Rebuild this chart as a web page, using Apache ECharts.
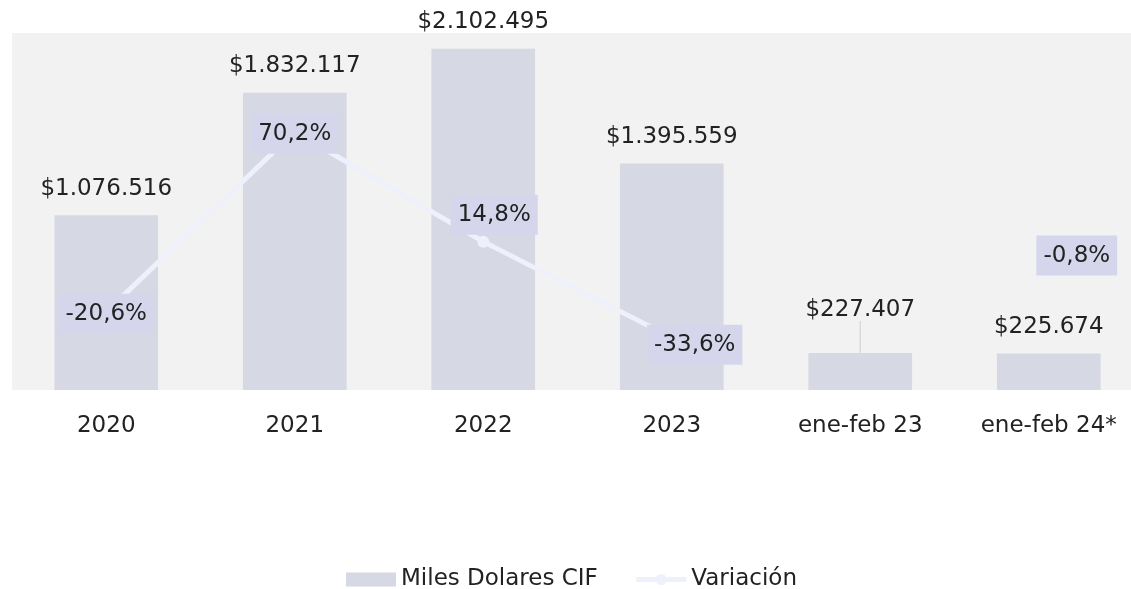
<!DOCTYPE html>
<html>
<head>
<meta charset="utf-8">
<script src="https://cdn.jsdelivr.net/npm/echarts@6/dist/echarts.min.js"></script>
<style>
  html, body { margin: 0; padding: 0; background: #fff; overflow: hidden; }
  #main { width: 1143px; height: 589px; }
</style>
</head>
<body>
<div id="main"></div>
<script>
// datos
var categorias = ['2020', '2021', '2022', '2023', 'ene-feb 23', 'ene-feb 24*'];
var milesDolares = [1076516, 1832117, 2102495, 1395559, 227407, 225674];
var variacion = [-20.6, 70.2, 14.8, -33.6, '-', -0.8];

var FONT = 'DejaVu Sans';
var FS = 23;
var TXT = '#222';

function fmtMiles(v) {
  return '$' + String(v).replace(/\B(?=(\d{3})+(?!\d))/g, '.');
}
function fmtPct(v) {
  return String(v.toFixed(1)).replace('.', ',') + '%';
}

// posicion de cada etiqueta de variacion
var posLabel = [
  { position: 'inside', offset: [0, 2] },
  { position: 'inside', offset: [0, 2] },
  { position: 'inside', offset: [11, -27] },
  { position: 'inside', offset: [23, 7] },
  null,
  { position: 'inside', offset: [28, -17] }
];

var lineData = variacion.map(function (v, i) {
  if (v === '-') return '-';
  return { value: v, label: posLabel[i] };
});

// solo la barra ene-feb 23 lleva la etiqueta desplazada con linea
var barData = milesDolares.map(function (v, i) {
  if (i === 4) return { value: v, labelLine: { show: true } };
  return v;
});

var chart = echarts.init(document.getElementById('main'), null, { renderer: 'canvas' });

var option = {
  animation: false,
  textStyle: { fontFamily: FONT },
  grid: {
    left: 12,
    right: 0,
    top: 33,
    bottom: 199,
    show: true,
    backgroundColor: '#f2f2f2',
    borderWidth: 0
  },
  legend: {
    top: 563,
    left: 'center',
    itemWidth: 50,
    itemHeight: 14,
    itemGap: 36,
    lineStyle: { width: 5 },
    textStyle: { fontSize: FS, color: TXT, fontFamily: FONT },
    data: [{ name: 'Miles Dolares CIF', icon: 'rect' }, 'Variación']
  },
  xAxis: {
    type: 'category',
    data: categorias,
    axisLine: { show: false },
    axisTick: { show: false },
    axisLabel: { fontSize: FS, color: TXT, margin: 25, fontFamily: FONT }
  },
  yAxis: [
    { type: 'value', min: 0, max: 2200000, show: false, splitLine: { show: false } },
    { type: 'value', min: -60, max: 120, show: false, splitLine: { show: false } }
  ],
  series: [
    {
      name: 'Miles Dolares CIF',
      type: 'bar',
      data: barData,
      barWidth: '55%',
      itemStyle: { color: '#d6d8e4' },
      label: {
        show: true,
        position: 'top',
        distance: 15,
        fontSize: FS,
        color: TXT,
        fontFamily: FONT,
        formatter: function (p) { return fmtMiles(p.value); }
      },
      labelLine: { show: false, lineStyle: { color: '#dadada', width: 1.5 } },
      labelLayout: function (p) {
        if (p.dataIndex === 4) return { dy: -17 };
        return {};
      }
    },
    {
      name: 'Variación',
      type: 'line',
      yAxisIndex: 1,
      data: lineData,
      connectNulls: false,
      symbol: 'circle',
      symbolSize: 12,
      z: 5,
      lineStyle: { color: '#eef0fb', width: 5 },
      itemStyle: { color: '#eef0fb' },
      label: {
        show: true,
        fontSize: FS,
        color: TXT,
        fontFamily: FONT,
        backgroundColor: '#d5d6ec',
        padding: [9, 7, 8, 7],
        formatter: function (p) { return fmtPct(p.value); }
      }
    }
  ]
};

chart.setOption(option);
window.addEventListener('resize', chart.resize);
</script>
</body>
</html>
